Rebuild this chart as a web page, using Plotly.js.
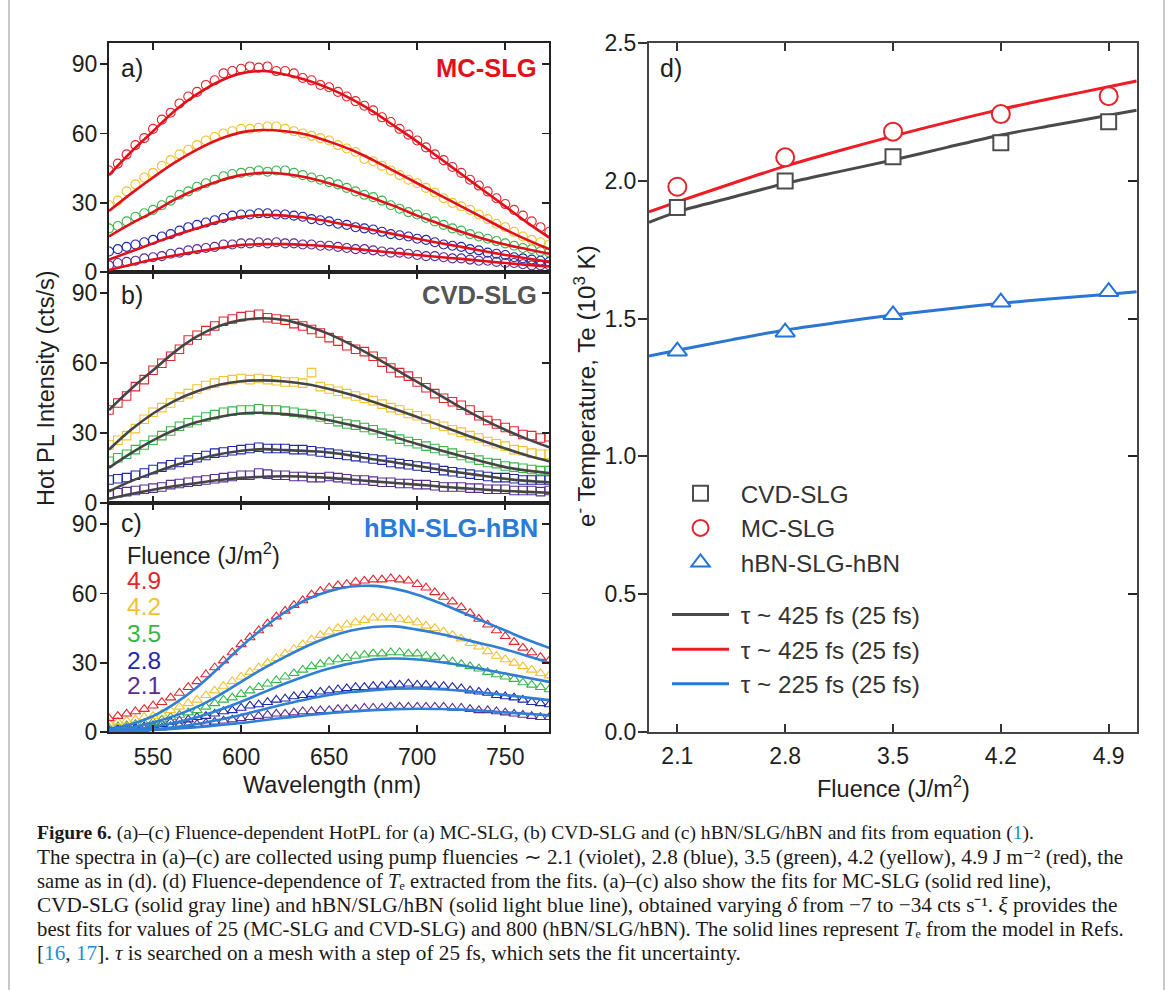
<!DOCTYPE html>
<html><head><meta charset="utf-8">
<script src="https://cdn.plot.ly/plotly-3.0.1.min.js"></script>
<style>html,body{margin:0;padding:0;background:#fff}#chart{width:1171px;height:990px}</style>
</head><body><div id="chart"></div>
<script>
// ---------- DATA ----------
const wavelength = [525,530,535,540,545,550,555,560,565,570,575,580,585,590,595,600,605,610,615,620,625,630,635,640,645,650,655,660,665,670,675,680,685,690,695,700,705,710,715,720,725,730,735,740,745,750,755,760,765,770,775];
const fitWavelength = [525,537.5,550,562.5,575,587.5,600,612.5,625,637.5,650,662.5,675,687.5,700,712.5,725,737.5,750,762.5,775];
const fluenceLabels = ['4.9','4.2','3.5','2.8','2.1'];

// (a) MC-SLG spectra
const mc49 = [44,47,51,55,58,62,66,69,73,76,78,81,83,86,87,88,89,88.5,89,87,87,86,84,83,81,80,78,76,74,72,70,67,65,62,59.5,57,54,51,48.5,45.5,43,40,37.5,35,32,29.5,27,24.5,22,19.5,17.5];
const mc42 = [29,31,35,38,41,43,46,48.5,51,53,55,57,58.5,60,61,62,62,62.5,63,63,62,61,60,59,58,57,55,53.5,52,49,48,46,44,42,40,38.5,36.5,34.5,32,30,28.5,27,25,23,21,19.5,17.5,15.5,14,13,12];
const mc35 = [19,20,22,24,25.5,27,29,31,33.5,35,37,38.5,40,41.5,42.5,43,43.5,44,43.5,44,44,43,42,41,40,39,38,36.5,35,33.5,32.5,31,29,27.5,26,25,23.5,22,20.5,19,18,16.5,15.5,14.5,13.5,12.5,11.5,10.5,10,9,8.5];
const mc28 = [9,10,11,12,13,14,15.5,16.5,18,19.5,20.5,21.5,22.5,23.5,24.5,25,25,25.5,25.5,25,25,24.5,24,23,22.5,22,21,20.5,19.5,19,18.5,17.5,16.5,16,15.5,14.5,14,13,12,11.5,11,10,9.5,8.5,8,7.5,6.5,6,5.5,5,4.5];
const mc21 = [3,4,4.5,5,6,6.5,7,8,8.5,9.5,10,10.5,11,12,12,12.5,12.5,13,12.5,13,12.5,12.5,12,12,11.5,11.5,11,10.5,10,10,9.5,9,8.5,8.5,8,7.5,7,7,6.5,6,6,5.5,5,5,4.5,4,4,3.5,3,3,3];
const mcFit49 = [42,52,61,70,77,82.5,86,87,85.5,83,79.5,75,69.5,63,56.5,49.5,42.5,35.5,28.5,21.5,15];
const mcFit42 = [26.5,34,41,47.5,53,57.5,60.5,61.5,61,59.5,56.5,53,48.5,43.5,38.5,33.5,28.5,23.5,18.5,14,10];
const mcFit35 = [15.5,21,26,31.5,36,39.5,42,43,42.5,41,38.5,35.5,32,28.5,24.5,21,17.5,14.5,12,10,8];
const mcFit28 = [5.5,9,12.5,16,19,22,24,24.8,24.5,23.5,22,20.2,18.3,16.4,14.5,12.7,11,9.2,7.5,6,4.5];
const mcFit21 = [1,3.3,5.5,7.3,9,10.5,11.8,12.2,12.2,11.8,11.2,10.3,9.3,8.4,7.5,6.6,5.8,4.9,4,3.2,2.5];

// (b) CVD-SLG spectra
const cvd49 = [40,43,46,50,53,57,60,63,66,70,72,74,76,78,79,80,80.5,81,79.5,79,78.5,77,76,74.5,73,71,69.5,67.5,66,65,63,60.5,58,56,54.5,52,49.5,47,45,43.5,42,40,37.5,35.5,34,32.5,31,29.5,29,28,28.5];
const cvd42 = [25,27,29,32,36,39,41,43,45.5,47,49,50.5,51.5,52.5,53,53.5,53,53.5,53,52.5,52,52,51.5,56,50,49,48,47,46,45,44,42.5,41,40,38.5,37.5,36,34,33,31.5,30.5,29,28,26.5,25.5,24.5,23,22.5,21.5,21,21];
const cvd35 = [18,19.5,21,23,25,27,29,31,33,34.5,35.5,37,38,39,39.5,40,40,40.5,40,40,39.5,39,38.5,38,37,36,35,34,33.5,32.5,31.5,30,29,27.5,26.5,25.5,24.5,23.5,22.5,21.5,20.5,19.5,18.5,17.5,17,16,15.5,15,14.5,14,14];
const cvd28 = [10,10.5,11,12,13,14.5,15.5,16.5,17.5,18.5,19.5,20.5,21.5,22,22.5,23,23.5,24,23.5,23.5,23.5,23,23,22.5,22,21.5,21,20.5,20,19.5,19,18.5,17.5,17,16.5,16,15.5,15,14,13.5,13,12.5,12,11.5,11,11,10.5,10,10,10,10];
const cvd21 = [4,4.5,5,5.5,6,6.5,7,8,8.5,9,9.5,10,10.5,11,11.5,12,12,13,12.5,12,12,11.5,11.5,11,11,11.5,11,10.5,10,10,9.5,9,9,8.5,8.5,8,8,7.5,7,7,7,6.5,6.5,6,6,6,5.5,5.5,5.5,5,5.5];
const cvdFit49 = [40,49,57,65,71.5,76,78.5,79.3,78.5,76,72.5,68,63,57.5,52,46.5,41,36,31.5,27.5,24];
const cvdFit42 = [23,31.5,38.5,44,48,50.8,52.3,52.7,52.2,51,49,46.5,43.5,40.3,37,33.5,30,26.7,23.5,20.5,18];
const cvdFit35 = [15.2,21.5,27,31.5,34.8,37,38.5,38.8,38.2,37.2,35.6,33.5,31.2,28.3,25.4,22.8,20.3,17.8,15.5,14,13];
const cvdFit28 = [5.1,9.5,13,16.3,18.9,21,22.5,23.2,22.8,22.4,21.8,20.5,18.9,17.5,16,14.5,13.1,11.8,10.5,9.6,9];
const cvdFit21 = [1.9,4,5.8,7.4,8.7,10,10.9,11.4,11.6,11.4,10.9,10.2,9.4,8.7,8,7.2,6.5,5.9,5.3,4.9,4.5];

// (c) hBN-SLG-hBN spectra
const hbn49 = [6,7,8,9,10,11.5,13,15,17,19.5,22,25,28,31,34.5,38,41,44,47,50,52.5,55,57,59.5,61,62.5,63.5,64,65,65.5,66,66,66.5,66,65.5,64,62.5,60.5,58.5,56.5,54,51.5,49,46.5,44,41.5,39,36.5,34.5,32.5,31];
const hbn42 = [4,4.5,5,5.5,6.5,7,8,9.5,11,12.5,14,16,18,20,22,24,26,28,30,32,34,36,38,40,42,43.5,45,46.5,47.5,48.5,49.5,49.5,49.5,49,48.5,47.5,46,45,43.5,42,40.5,38.5,37,35,33,31.5,30,28.5,27,25.5,24.5];
const hbn35 = [2,2.5,3,3.5,4,4.5,5.5,6.5,7.5,8.5,9.5,11,12.5,14,15,16.5,18,19.5,21,22.5,24,25.5,27,28.5,29.5,30.5,31.5,32,33,33.5,34,34,34.5,34.5,34,34,33,32.5,31.5,30.5,29.5,28.5,27.5,26,25,24,23,21.5,20.5,19.5,18.5];
const hbn28 = [1,1.5,2,2,2.5,3,3.5,4.5,5,5.5,6.5,7,8,9,9.5,10.5,11.5,12,13,14,14.5,15.5,16,16.5,17.5,18,18.5,19,19.5,19.5,20,20,20.5,20.5,21,20.5,20.5,20,20,19.5,19,18,17.5,17,16,15.5,15,14,13,12.5,12];
const hbn21 = [0.5,1,1,1.5,1.5,2,2,2.5,3,3.5,3.5,4,4.5,5,5.5,6,6.5,7,7.5,8,8,8.5,9,9,9.5,9.5,10,10,10,10.5,10.5,10.5,11,11,11,11,11,11,11,10.5,10.5,10,9.5,9.5,9,8.5,8,7.5,7,6.5,6.5];
const hbnFit49 = [1.5,3.5,7,12.5,19.5,28,37,45,52,57.5,61,63,63.3,62,59.5,56,52,48,44,40,36.5];
const hbnFit42 = [0.7,2,4.2,7.2,11,16,21.8,27.5,32.6,37.3,41.2,44,45.5,45.8,44.4,42.6,40.5,38.2,35.8,33,30];
const hbnFit35 = [0.3,1.1,2.4,4.2,6.5,9.6,13.2,17.2,21.1,24.6,27.6,29.8,31.5,31.9,31.5,30.4,29,27.2,25.4,23.6,21.8];
const hbnFit28 = [0,0.6,1.3,2.3,3.6,5.4,7.5,9.9,12.2,14.3,16.1,17.4,18.2,18.8,19,18.6,18,17.1,16.1,15,13.9];
const hbnFit21 = [0,0.5,1,1.6,2.2,3.1,4,5.2,6.3,7.4,8.3,9,9.6,10,10.2,10.1,9.8,9.3,8.6,8,7.3];

// (d) Electron temperature vs fluence
const fluence = [2.1,2.8,3.5,4.2,4.9];
const teCVD = [1.904,2.000,2.088,2.139,2.215];
const teMC  = [1.979,2.086,2.179,2.243,2.308];
const teHBN = [1.382,1.451,1.514,1.560,1.598];
const fitFluence = [1.916,2.1,2.45,2.8,3.15,3.5,3.85,4.2,4.55,4.9,5.082];
const teFitCVD = [1.850,1.888,1.940,1.991,2.034,2.076,2.122,2.167,2.203,2.239,2.257];
const teFitMC  = [1.888,1.924,1.990,2.054,2.110,2.163,2.213,2.260,2.302,2.342,2.363];
const teFitHBN = [1.364,1.385,1.423,1.459,1.487,1.513,1.535,1.556,1.573,1.589,1.598];
const legendNames = ['\u00a0CVD-SLG','\u00a0MC-SLG','\u00a0hBN-SLG-hBN','\u00a0\u03c4 ~ 425 fs (25 fs)','\u00a0\u03c4 ~ 425 fs (25 fs)','\u00a0\u03c4 ~ 225 fs (25 fs)'];

// ---------- STYLE ----------
const W = 1171, H = 990;
const px = v => v / W, py = v => 1 - v / H;
const SANS = 'Liberation Sans, Arial, sans-serif';
const SERIF = 'Liberation Serif, Times New Roman, serif';
const C = {r:'#e0272e', y:'#f2c232', g:'#3bb54a', b:'#1f2aa8', v:'#5a2e91'};
const fitMC = '#e3101a', fitCVD = '#454545', fitHBN = '#2f7fd6';

const traces = [];
function spectra(xa, ya, sets, symbol, size, fitColor) {
  sets.forEach(s => traces.push({x: wavelength, y: s.d, xaxis: xa, yaxis: ya, type: 'scatter', mode: 'markers',
    marker: {symbol: symbol, size: size, color: s.c, line: {width: 1.1, color: s.c}}, showlegend: false, hoverinfo: 'skip'}));
  sets.forEach(s => traces.push({x: fitWavelength, y: s.f, xaxis: xa, yaxis: ya, type: 'scatter', mode: 'lines',
    line: {color: fitColor, width: 2.6, shape: 'spline', smoothing: 1}, showlegend: false, hoverinfo: 'skip'}));
}
spectra('x3','y3',[{d:mc21,f:mcFit21,c:C.v},{d:mc28,f:mcFit28,c:C.b},{d:mc35,f:mcFit35,c:C.g},{d:mc42,f:mcFit42,c:C.y},{d:mc49,f:mcFit49,c:C.r}],'circle-open',9,fitMC);
spectra('x2','y2',[{d:cvd21,f:cvdFit21,c:C.v},{d:cvd28,f:cvdFit28,c:C.b},{d:cvd35,f:cvdFit35,c:C.g},{d:cvd42,f:cvdFit42,c:C.y},{d:cvd49,f:cvdFit49,c:C.r}],'square-open',8.5,fitCVD);
spectra('x','y',[{d:hbn21,f:hbnFit21,c:C.v},{d:hbn28,f:hbnFit28,c:C.b},{d:hbn35,f:hbnFit35,c:C.g},{d:hbn42,f:hbnFit42,c:C.y},{d:hbn49,f:hbnFit49,c:C.r}],'triangle-up-open',9,fitHBN);

// panel d lines (drawn first) then markers
[[teFitCVD,'#4a4a4a',3],[teFitMC,'#ee1c24',4],[teFitHBN,'#2a76d2',5]].forEach((l,i)=>traces.push({
  x: fitFluence, y: l[0], xaxis:'x4', yaxis:'y4', type:'scatter', mode:'lines', name: legendNames[l[2]],
  legendgroup:'lines', legendrank: 4+i, line:{color:l[1], width:3, shape:'spline', smoothing:0.8}, hoverinfo:'skip'}));
[[teCVD,'square','#4d4d4d',15,0],[teMC,'circle','#e3242b',18,1],[teHBN,'triangle-up','#2473d6',17,2]].forEach(m=>traces.push({
  x: fluence, y: m[0], xaxis:'x4', yaxis:'y4', type:'scatter', mode:'markers', name: legendNames[m[4]],
  legendgroup:'markers', legendrank: 1+m[4], marker:{symbol:m[1], size:m[3], color:'#ffffff', line:{width:2, color:m[2]}}, hoverinfo:'skip'}));
// empty traces to hold the right-hand tick axes
[['x','y5'],['x2','y6'],['x3','y7'],['x4','y8']].forEach(p=>traces.push({x:[],y:[],xaxis:p[0],yaxis:p[1],type:'scatter',showlegend:false,hoverinfo:'skip'}));

// ---------- AXES ----------
const xDomL = [px(109), px(549.3)];
const yDomC = [py(732.3), py(503.3)], yDomB = [py(503.3), py(272.3)], yDomA = [py(272.3), py(43.3)];
const xDomD = [px(649), px(1136.7)], yDomD = [py(731.7), py(43.3)];
const tickFont = {family: SANS, size: 23, color: '#1e1e1e'};
function xAx(anchor, labels) {
  return {domain: xDomL, anchor: anchor, range: [525, 775], tickvals: [550,600,650,700,750], ticks: 'inside', ticklen: 7, tickwidth: 1.8,
    tickcolor: '#222', showline: true, linewidth: 2, linecolor: '#222', mirror: 'ticks', showgrid: false, zeroline: false,
    showticklabels: labels, tickfont: tickFont, ticklabelstandoff: 3, fixedrange: true};
}
function yAx(anchor, dom) {
  return {domain: dom, anchor: anchor, range: [0, 99], tickvals: [0,30,60,90], ticks: 'outside', ticklen: 7, tickwidth: 1.8,
    tickcolor: '#222', showline: true, linewidth: 2, linecolor: '#222', mirror: true, showgrid: false, zeroline: false,
    tickfont: tickFont, ticklabelstandoff: -2, fixedrange: true};
}
function yRight(over, anchor, range, vals, len) {
  return {overlaying: over, anchor: anchor, side: 'right', range: range, tickvals: vals, ticks: 'inside', ticklen: len, tickwidth: 1.8,
    tickcolor: '#222', showline: false, showgrid: false, zeroline: false, showticklabels: false, fixedrange: true};
}

const annotations = [];
function ann(text, x, y, o) {
  annotations.push(Object.assign({text: text, x: px(x), y: py(y), xref: 'paper', yref: 'paper', showarrow: false,
    xanchor: 'left', yanchor: 'middle', font: {family: SANS, size: 24, color: '#1e1e1e'}}, o || {}));
}
// panel labels
ann('a)', 119, 67.7, {font:{family:SANS,size:25,color:'#1e1e1e'}});
ann('b)', 119, 295, {font:{family:SANS,size:25,color:'#1e1e1e'}});
ann('c)', 119, 523.3, {font:{family:SANS,size:25,color:'#1e1e1e'}});
ann('d)', 658, 67.7, {font:{family:SANS,size:25,color:'#1e1e1e'}});
ann('<b>MC-SLG</b>', 539, 68, {xanchor:'right', font:{family:SANS,size:25.5,color:'#e3101a'}});
ann('<b>CVD-SLG</b>', 539, 295, {xanchor:'right', font:{family:SANS,size:25.5,color:'#555555'}});
ann('<b>hBN-SLG-hBN</b>', 540, 527.7, {xanchor:'right', font:{family:SANS,size:25.5,color:'#2b7bd6'}});
// fluence key in (c)
ann('Fluence (J/m<sup>2</sup>)', 125, 554, {font:{family:SANS,size:23.5,color:'#1e1e1e'}});
const keyColors = [C.r, C.y, C.g, C.b, C.v];
const keyY = [580, 606.7, 633.3, 660, 685];
fluenceLabels.forEach((t,i)=>ann(t, 125, keyY[i], {font:{family:SANS,size:24.5,color:keyColors[i]}}));
// axis titles
ann('Hot PL Intensity (cts/s)', 46, 388, {xanchor:'center', textangle:-90, font:{family:SANS,size:23.5,color:'#1e1e1e'}});
ann('Wavelength (nm)', 332, 785, {xanchor:'center', font:{family:SANS,size:23.5,color:'#1e1e1e'}});
ann('e<sup>-</sup> Temperature, Te (10<sup>3</sup> K)', 585, 386, {xanchor:'center', textangle:-90, font:{family:SANS,size:24.2,color:'#1e1e1e'}});
ann('Fluence (J/m<sup>2</sup>)', 893, 786.7, {xanchor:'center', font:{family:SANS,size:23.5,color:'#1e1e1e'}});
// caption
const LINK = '#1a8fd0';
const captionLines = [
  '<b>Figure 6.</b> (a)–(c) Fluence-dependent HotPL for (a) MC-SLG, (b) CVD-SLG and (c) hBN/SLG/hBN and fits from equation (<span style="color:'+LINK+'">1</span>).',
  'The spectra in (a)–(c) are collected using pump fluencies ∼ 2.1 (violet), 2.8 (blue), 3.5 (green), 4.2 (yellow), 4.9 J m⁻² (red), the',
  'same as in (d). (d) Fluence-dependence of <i>T</i>ₑ extracted from the fits. (a)–(c) also show the fits for MC-SLG (solid red line),',
  'CVD-SLG (solid gray line) and hBN/SLG/hBN (solid light blue line), obtained varying <i>δ</i> from −7 to −34 cts s⁻¹. <i>ξ</i> provides the',
  'best fits for values of 25 (MC-SLG and CVD-SLG) and 800 (hBN/SLG/hBN). The solid lines represent <i>T</i>ₑ from the model in Refs.',
  '[<span style="color:'+LINK+'">16</span>, <span style="color:'+LINK+'">17</span>]. <i>τ</i> is searched on a mesh with a step of 25 fs, which sets the fit uncertainty.'
];
const captionSizes = [19.6, 21.15, 20.6, 21.25, 20.75, 21.25];
captionLines.forEach((t,i)=>ann(t, 35, 833 + 24*i, {font:{family:SERIF, size:captionSizes[i], color:'#1a1a1a'}}));

const layout = {
  width: W, height: H, margin: {l:0, r:0, t:0, b:0}, paper_bgcolor: '#fff', plot_bgcolor: 'rgba(0,0,0,0)',
  showlegend: true,
  xaxis: xAx('y', true), xaxis2: xAx('y2', false), xaxis3: xAx('y3', false),
  yaxis: yAx('x', yDomC), yaxis2: yAx('x2', yDomB), yaxis3: yAx('x3', yDomA),
  yaxis5: yRight('y', 'x', [0,99], [0,30,60,90], 7),
  yaxis6: yRight('y2', 'x2', [0,99], [0,30,60,90], 7),
  yaxis7: yRight('y3', 'x3', [0,99], [0,30,60,90], 7),
  xaxis4: {domain: xDomD, anchor: 'y4', range: [1.916, 5.082], tickvals: fluence, ticktext: ['2.1','2.8','3.5','4.2','4.9'],
    ticks: 'inside', ticklen: 8, tickwidth: 1.8, tickcolor: '#333', showline: true, linewidth: 2, linecolor: '#444', mirror: 'ticks',
    showgrid: false, zeroline: false, tickfont: tickFont, ticklabelstandoff: 3, fixedrange: true},
  yaxis4: {domain: yDomD, anchor: 'x4', range: [0, 2.5], tickvals: [0,0.5,1,1.5,2,2.5], ticktext: ['0.0','0.5','1.0','1.5','2.0','2.5'],
    ticks: 'outside', ticklen: 9, tickwidth: 1.8, tickcolor: '#333', showline: true, linewidth: 2, linecolor: '#444', mirror: true,
    showgrid: false, zeroline: false, tickfont: tickFont, ticklabelstandoff: -3, fixedrange: true},
  yaxis8: yRight('y4', 'x4', [0,2.5], [0,0.5,1,1.5,2,2.5], 9),
  legend: {x: px(667), y: py(471), xanchor: 'left', yanchor: 'top', bgcolor: 'rgba(0,0,0,0)', borderwidth: 0,
    font: {family: SANS, size: 24.3, color: '#333'}, itemwidth: 57, tracegroupgap: 17.5, traceorder: 'grouped'},
  annotations: annotations,
  shapes: [
    {type:'line', xref:'paper', yref:'paper', x0:px(9), x1:px(9), y0:0, y1:1, line:{color:'#c8c8c8', width:2}},
    {type:'line', xref:'paper', yref:'paper', x0:px(1164), x1:px(1164), y0:0, y1:1, line:{color:'#c8c8c8', width:2}}
  ]
};
Plotly.newPlot('chart', traces, layout, {staticPlot: true, displayModeBar: false});
</script></body></html>
